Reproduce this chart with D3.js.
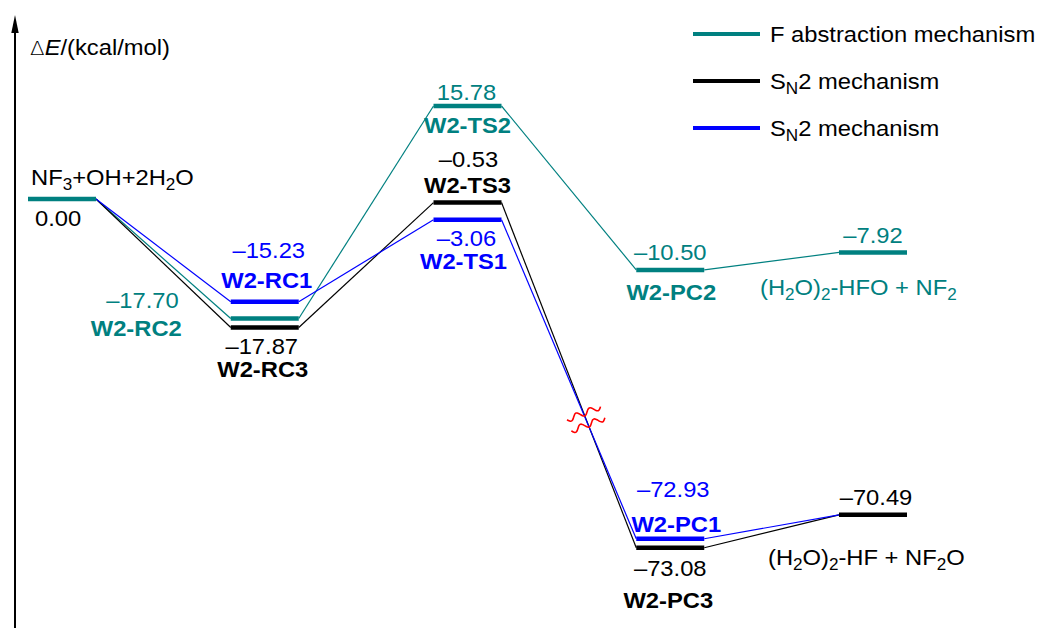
<!DOCTYPE html>
<html>
<head>
<meta charset="utf-8">
<script src="https://cdn.jsdelivr.net/npm/d3@7"></script>
<style>
  html, body { margin: 0; padding: 0; background: #fff; }
  svg { display: block; font-family: "Liberation Sans", Arial, sans-serif; }
</style>
</head>
<body>
<svg id="chart" width="1039" height="628"></svg>
<script>
// Energy values (kcal/mol) along the reaction coordinate
const stages = ['R', 'RC', 'TS', 'PC', 'P'];
const fAbstraction = [0.00, -17.70, 15.78, -10.50, -7.92];
const sn2Black = [0.00, -17.87, -0.53, -73.08, -70.49];
const sn2Blue = [0.00, -15.23, -3.06, -72.93, -70.49];

const fSpecies = ['NF_3+OH+2H_2O', 'W2-RC2', 'W2-TS2', 'W2-PC2', '(H_2O)_2-HFO + NF_2'];
const blackSpecies = ['NF_3+OH+2H_2O', 'W2-RC3', 'W2-TS3', 'W2-PC3', '(H_2O)_2-HF + NF_2O'];
const blueSpecies = ['NF_3+OH+2H_2O', 'W2-RC1', 'W2-TS1', 'W2-PC1', '(H_2O)_2-HF + NF_2O'];

const legendLabels = ['F abstraction mechanism', 'S_N2 mechanism', 'S_N2 mechanism'];

const TEAL = '#008080';
const BLACK = '#000000';
const BLUE = '#0000ff';
const SX = 1.08; // the original glyphs are a bit wider than Arial
const FONT = 22;

const series = [
  { key: 'f', values: fAbstraction, species: fSpecies, color: TEAL },
  { key: 'black', values: sn2Black, species: blackSpecies, color: BLACK },
  { key: 'blue', values: sn2Blue, species: blueSpecies, color: BLUE }
];

// label placement per bar: [value label dx, dy, anchor], [species label dx, dy, anchor, bold]
const labelLayout = {
  'f-R': { value: [-27, 27, 'start'], name: [-31, -14, 'start', false] },
  'f-RC': { value: [-86, -10, 'end'], name: [-83, 18, 'end', true] },
  'f-TS': { value: [-1, -6, 'middle'], name: [0, 27, 'middle', true] },
  'f-PC': { value: [0, -10, 'middle'], name: [1, 30, 'middle', true] },
  'f-P': { value: [0, -9, 'middle'], name: [-113, 43, 'start', false] },
  'black-RC': { value: [-3, 27, 'middle'], name: [-2, 50, 'middle', true] },
  'black-TS': { value: [1, -36, 'middle'], name: [0, -10, 'middle', true] },
  'black-PC': { value: [0, 28, 'middle'], name: [-2, 60, 'middle', true] },
  'black-P': { value: [3, -10, 'middle'], name: [-105, 50, 'start', false] },
  'blue-RC': { value: [4, -44, 'middle'], name: [2, -14, 'middle', true] },
  'blue-TS': { value: [-1, 26, 'middle'], name: [-4, 49, 'middle', true] },
  'blue-PC': { value: [3, -42, 'middle'], name: [6, -7, 'middle', true] }
};

const svg = d3.select('#chart');

const x = d3.scalePoint().domain(stages).range([62, 873]);
// broken axis: the -68 … -20 band is squeezed
const y = d3.scaleLinear()
  .domain([-75, -68, -20, 0, 16])
  .range([559, 490.5, 334, 199, 104.7]);
const BAR_W = 68;
const GAP = 9;

function fmtVal(v) {
  const s = Math.abs(v).toFixed(2);
  return v < 0 ? '\u2013' + s : s;
}

function richText(g, str, px, py, anchor, color, bold) {
  const t = g.append('text')
    .attr('transform', `translate(${px},${py}) scale(${SX},1)`)
    .attr('text-anchor', anchor)
    .attr('fill', color)
    .attr('font-size', FONT)
    .attr('font-weight', bold ? 'bold' : 'normal');
  const parts = str.split(/(_.)/).filter((p) => p.length);
  let shifted = false;
  parts.forEach((p) => {
    if (p[0] === '_') {
      t.append('tspan').attr('font-size', FONT * 0.72).attr('dy', shifted ? 0 : 5).text(p[1]);
      shifted = true;
    } else {
      t.append('tspan').attr('dy', shifted ? -5 : 0).text(p);
      shifted = false;
    }
  });
  return t;
}

// unique bars per stage, first series wins the colour, then spread close levels apart
const bars = [];
stages.forEach((stage, i) => {
  const levels = [];
  series.forEach((s) => {
    const v = s.values[i];
    let level = levels.find((l) => l.value === v);
    if (!level) {
      level = { stage, i, value: v, color: s.color, owner: s.key, members: [] };
      levels.push(level);
    }
    level.members.push(s.key);
  });
  levels.sort((a, b) => b.value - a.value);
  levels.forEach((l, k) => {
    l.y = y(l.value);
    if (k > 0 && l.y < levels[k - 1].y + GAP) l.y = levels[k - 1].y + GAP;
    bars.push(l);
  });
});

function barOf(key, i) {
  return bars.find((b) => b.i === i && b.members.includes(key));
}

// axis
svg.append('line')
  .attr('x1', 15).attr('x2', 15)
  .attr('y1', 628).attr('y2', 28)
  .attr('stroke', BLACK).attr('stroke-width', 2);
svg.append('path')
  .attr('d', 'M15,15 L11.3,33 L18.7,33 Z')
  .attr('fill', BLACK);

const axisLabel = svg.append('text')
  .attr('transform', `translate(30,55) scale(${SX},1)`)
  .attr('font-size', FONT)
  .attr('fill', BLACK);
axisLabel.append('tspan').attr('font-family', '"DejaVu Sans", sans-serif').attr('font-weight', 200).attr('font-size', FONT * 0.9).text('\u0394');
axisLabel.append('tspan').attr('font-style', 'italic').text('E');
axisLabel.append('tspan').text('/(kcal/mol)');

// connectors
const linkG = svg.append('g').attr('fill', 'none').attr('stroke-width', 1.2);
series.forEach((s) => {
  for (let i = 0; i < stages.length - 1; i += 1) {
    const a = barOf(s.key, i);
    const b = barOf(s.key, i + 1);
    linkG.append('line')
      .attr('x1', x(stages[i]) + BAR_W / 2).attr('y1', a.y)
      .attr('x2', x(stages[i + 1]) - BAR_W / 2).attr('y2', b.y)
      .attr('stroke', s.color);
  }
});

// levels
svg.append('g')
  .selectAll('line')
  .data(bars)
  .join('line')
  .attr('x1', (d) => x(d.stage) - BAR_W / 2)
  .attr('x2', (d) => x(d.stage) + BAR_W / 2)
  .attr('y1', (d) => d.y)
  .attr('y2', (d) => d.y)
  .attr('stroke', (d) => d.color)
  .attr('stroke-width', 4.5);

// labels
const labelG = svg.append('g');
bars.forEach((b) => {
  const lay = labelLayout[`${b.owner}-${b.stage}`];
  if (!lay) return;
  const s = series.find((d) => d.key === b.owner);
  const cx = x(b.stage);
  const nameColor = b.stage === 'R' ? BLACK : b.color;
  richText(labelG, fmtVal(b.value), cx + lay.value[0], b.y + lay.value[1], lay.value[2], nameColor, false);
  richText(labelG, s.species[b.i], cx + lay.name[0], b.y + lay.name[1], lay.name[2], nameColor, lay.name[3]);
});

// axis break mark across the TS -> PC drop
(function breakMark() {
  const a = barOf('black', 2);
  const b = barOf('black', 3);
  const p0 = [x('TS') + BAR_W / 2, a.y];
  const p1 = [x('PC') - BAR_W / 2, b.y];
  const yMid = y(-46);
  const t = (yMid - p0[1]) / (p1[1] - p0[1]);
  const c = [p0[0] + t * (p1[0] - p0[0]), yMid];
  const len = Math.hypot(p1[0] - p0[0], p1[1] - p0[1]);
  const v = [(p1[0] - p0[0]) / len, (p1[1] - p0[1]) / len];
  const u = [v[1], -v[0]];
  const wave = d3.line().curve(d3.curveBasis);
  [-6, 6].forEach((off) => {
    const pts = d3.range(0, 37).map((k) => {
      const s = k - 18;
      const w = 3 * Math.sin((k / 36) * Math.PI * 2 * 2.5);
      return [c[0] + u[0] * s + v[0] * (off + w), c[1] + u[1] * s + v[1] * (off + w)];
    });
    svg.append('path')
      .attr('d', wave(pts))
      .attr('fill', 'none')
      .attr('stroke', '#ff0000')
      .attr('stroke-width', 1.6);
  });
})();

// legend
const legendColors = [TEAL, BLACK, BLUE];
const legendY = d3.scalePoint().domain(d3.range(legendLabels.length)).range([34, 128]);
const legend = svg.append('g');
legendLabels.forEach((label, i) => {
  legend.append('line')
    .attr('x1', 693).attr('x2', 760)
    .attr('y1', legendY(i)).attr('y2', legendY(i))
    .attr('stroke', legendColors[i]).attr('stroke-width', 4);
  richText(legend, label, 770, legendY(i) + 8, 'start', BLACK, false);
});
</script>
</body>
</html>
